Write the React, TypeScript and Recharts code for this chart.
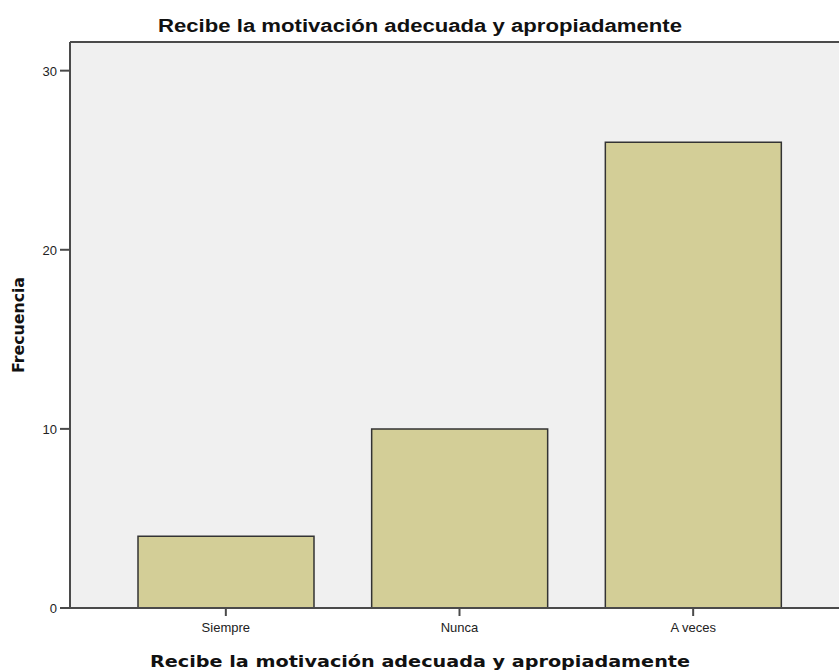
import { BarChart, Bar, XAxis, YAxis, CartesianGrid, ReferenceLine } from 'recharts';

const categories = ['Siempre', 'Nunca', 'A veces'];
const frequencies = [4, 10, 26];
const yTicks = [0, 10, 20, 30];
const Y_MAX = 31.6;

const TITLE = 'Recibe la motivación adecuada y apropiadamente';
const Y_TITLE = 'Frecuencia';

const AXIS_COLOR = '#4a4a4a';
const BAR_FILL = '#D3CE97';

const data = categories.map((name, i) => ({ name, value: frequencies[i] }));

const XTick = (props: any) => {
  const { x, y, payload } = props;
  return (
    <text x={x} y={y + 14} textAnchor="middle" fontFamily="Liberation Sans, Arial, sans-serif" fontSize={13} fill="#222">
      {payload.value}
    </text>
  );
};

const YTick = (props: any) => {
  const { x, y, payload } = props;
  return (
    <text x={x - 1} y={y + 5} textAnchor="end" fontFamily="Liberation Sans, Arial, sans-serif" fontSize={13} fill="#222">
      {payload.value}
    </text>
  );
};

export default function App() {
  return (
    <div style={{ position: 'absolute', left: 0, top: 0, width: 839, height: 670, background: '#fff' }}>
      <svg width={839} height={40} style={{ position: 'absolute', left: 0, top: 0 }}>
        <text
          x={420}
          y={32}
          textAnchor="middle"
          fontFamily="Liberation Sans, Arial, sans-serif"
          fontWeight="bold"
          fontSize={18}
          textLength={524}
          lengthAdjust="spacingAndGlyphs"
          fill="#111"
        >
          {TITLE}
        </text>
      </svg>
      <BarChart width={839} height={670} data={data} margin={{ top: 42, right: 0, left: 0, bottom: 0 }}>
        <CartesianGrid horizontal={false} vertical={false} fill="#F0F0F0" />
        <XAxis
          dataKey="name"
          height={62}
          padding={{ left: 39, right: 29 }}
          axisLine={{ stroke: AXIS_COLOR, strokeWidth: 2 }}
          tickLine={{ stroke: AXIS_COLOR, strokeWidth: 2 }}
          tickSize={8}
          tick={<XTick />}
          label={{
            content: () => (
              <text
                x={420}
                y={667}
                textAnchor="middle"
                fontFamily="DejaVu Sans, sans-serif"
                fontWeight="bold"
                fontSize={16}
                textLength={540}
                lengthAdjust="spacingAndGlyphs"
                fill="#111"
              >
                {TITLE}
              </text>
            ),
          }}
        />
        <YAxis
          width={70}
          domain={[0, Y_MAX]}
          ticks={yTicks}
          allowDataOverflow
          axisLine={{ stroke: AXIS_COLOR, strokeWidth: 2 }}
          tickLine={{ stroke: AXIS_COLOR, strokeWidth: 2 }}
          tickSize={10}
          tick={<YTick />}
          label={{
            content: () => (
              <text
                x={24}
                y={325}
                transform="rotate(-90 24 325)"
                textAnchor="middle"
                fontFamily="DejaVu Sans, sans-serif"
                fontWeight="bold"
                fontSize={15}
                textLength={96}
                lengthAdjust="spacingAndGlyphs"
                fill="#111"
              >
                {Y_TITLE}
              </text>
            ),
          }}
        />
        <ReferenceLine y={Y_MAX} stroke={AXIS_COLOR} strokeWidth={2} />
        <Bar dataKey="value" fill={BAR_FILL} stroke="#333" strokeWidth={1.5} barSize={176} isAnimationActive={false} />
      </BarChart>
    </div>
  );
}
